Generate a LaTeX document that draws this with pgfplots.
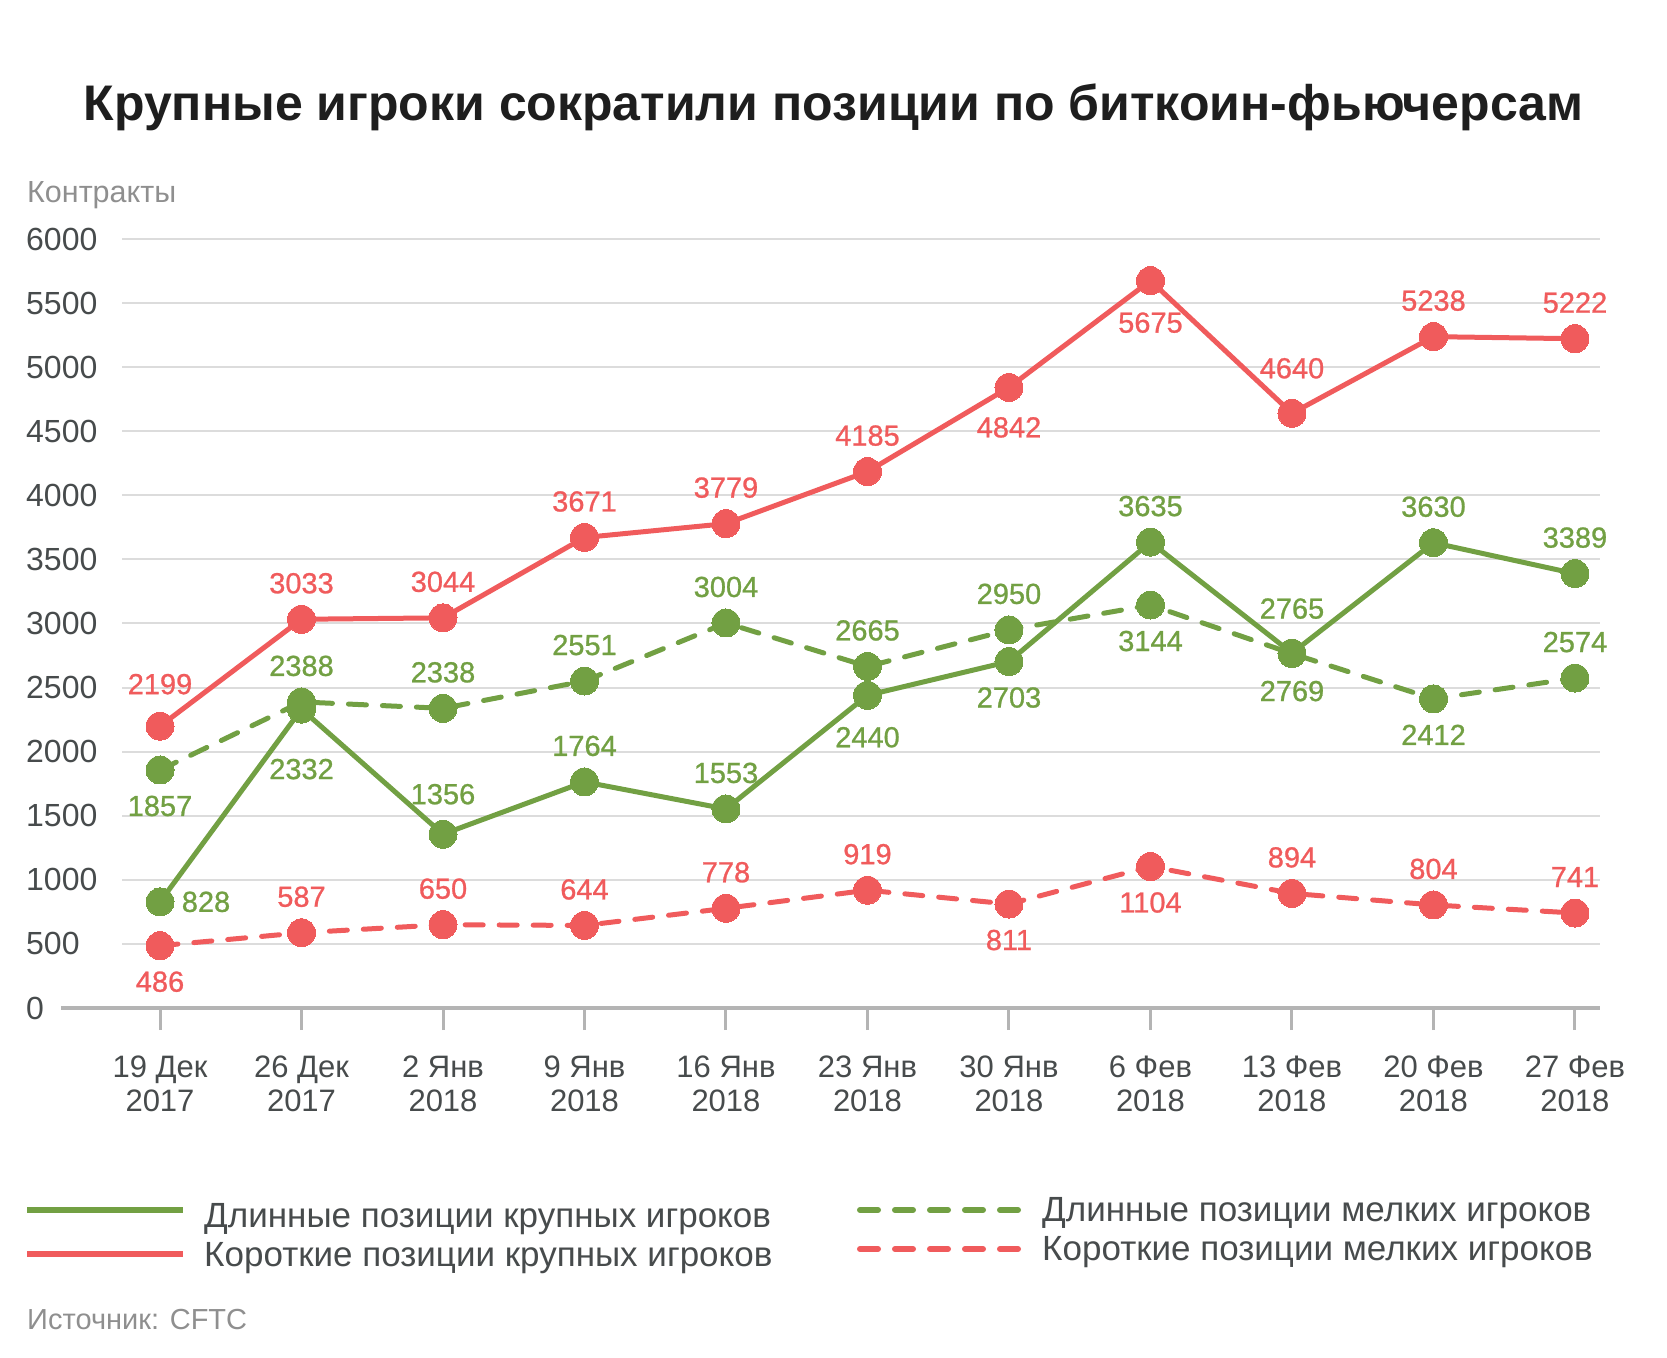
\documentclass[border=0pt]{standalone}
\usepackage{pgfplots}
\pgfplotsset{compat=1.18}
\usepackage{pgfplotstable}
\usepackage{fontspec}
\setmainfont{Liberation Sans}
\newfontfamily\medfont[FakeBold=0.9]{Liberation Sans}

\definecolor{cgreen}{HTML}{72A043}
\definecolor{cred}{HTML}{F05B5C}
\definecolor{txt}{HTML}{474B4C}
\definecolor{ttl}{HTML}{1E1E1E}
\definecolor{muted}{HTML}{8F8F8F}
\definecolor{gridgray}{HTML}{DCDCDC}
\definecolor{basegray}{HTML}{B4B4B4}

% columns: week index, contracts, label offset (dx, dy in pt)
\pgfplotstableread{
x y dx dy
0 2199 0 42
1 3033 0 36
2 3044 0 36
3 3671 0 36
4 3779 0 36
5 4185 0 36
6 4842 0 -40
7 5675 0 -42
8 4640 0 45
9 5238 0 36
10 5222 0 36
}\bigShort

\pgfplotstableread{
x y dx dy
0 828 46 0
1 2332 0 -60
2 1356 0 40
3 1764 0 36
4 1553 0 36
5 2440 0 -42
6 2703 0 -36
7 3635 0 36
8 2769 0 -38
9 3630 0 36
10 3389 0 36
}\bigLong

\pgfplotstableread{
x y dx dy
0 1857 0 -36
1 2388 0 36
2 2338 0 36
3 2551 0 36
4 3004 0 36
5 2665 0 36
6 2950 0 36
7 3144 0 -36
8 2765 0 45
9 2412 0 -36
10 2574 0 36
}\smallLong

\pgfplotstableread{
x y dx dy
0 486 0 -36
1 587 0 36
2 650 0 36
3 644 0 36
4 778 0 36
5 919 0 36
6 811 0 -36
7 1104 0 -36
8 894 0 36
9 804 0 36
10 741 0 36
}\smallShort

\begin{document}
\begin{tikzpicture}[x=1pt,y=1pt]
\useasboundingbox (0,0) rectangle (1667,1357);

\node[font=\bfseries\fontsize{50}{60}\selectfont, text=ttl] at (833.5,1250) {Крупные игроки сократили позиции по биткоин-фьючерсам};
\node[anchor=west, inner sep=0pt, font=\fontsize{30.5}{36}\selectfont, text=muted] at (27,1162) {Контракты};

\begin{axis}[
  at={(122pt,349pt)}, anchor=south west,
  scale only axis, width=1478pt, height=769pt,
  xmin=-0.2686, xmax=10.177, ymin=0, ymax=6000,
  clip=false,
  axis line style={draw=none},
  ytick={0,500,...,6000},
  ymajorgrids,
  grid style={draw=gridgray, line width=2pt},
  xtick={0,...,10},
  xticklabels={{19 Дек\\2017},{26 Дек\\2017},{2 Янв\\2018},{9 Янв\\2018},{16 Янв\\2018},{23 Янв\\2018},{30 Янв\\2018},{6 Фев\\2018},{13 Фев\\2018},{20 Фев\\2018},{27 Фев\\2018}},
  xtick pos=bottom, ytick pos=left,
  tick align=outside, major tick length=22pt,
  xtick style={draw=basegray, line width=3pt},
  ytick style={draw=none},
  xticklabel style={align=center, anchor=north, inner sep=0pt, yshift=-26pt,
    font=\fontsize{31}{34}\selectfont, text=txt},
  yticklabel style={anchor=west, inner sep=0pt, xshift=-74pt,
    font=\fontsize{32}{38}\selectfont, text=txt},
  /pgf/number format/1000 sep={},
  /pgf/number format/assume math mode=true,
  visualization depends on={\thisrow{dx} \as \ldx},
  visualization depends on={\thisrow{dy} \as \ldy},
  nodes near coords,
  point meta=explicit symbolic,
  every node near coord/.append style={anchor=center, inner sep=0pt,
    xshift=\ldx pt, yshift=\ldy pt, font=\medfont\fontsize{29}{34}\selectfont},
  mark size=14pt,
]
% zero line
\draw[basegray, line width=4pt] (axis cs:-0.70,0) -- (axis cs:10.177,0);

\addplot[cred, line width=5pt, dash pattern=on 18pt off 16pt, line cap=round,
  mark=*, mark options={solid, fill=cred, draw=cred, line width=0pt},
  every node near coord/.append style={text=cred}]
  table[x=x, y=y, meta=y] {\smallShort};
\addplot[cgreen, line width=5pt, dash pattern=on 18pt off 16pt, line cap=round,
  mark=*, mark options={solid, fill=cgreen, draw=cgreen, line width=0pt},
  every node near coord/.append style={text=cgreen}]
  table[x=x, y=y, meta=y] {\smallLong};
\addplot[cgreen, line width=5pt, line join=round,
  mark=*, mark options={solid, fill=cgreen, draw=cgreen, line width=0pt},
  every node near coord/.append style={text=cgreen}]
  table[x=x, y=y, meta=y] {\bigLong};
\addplot[cred, line width=5pt, line join=round,
  mark=*, mark options={solid, fill=cred, draw=cred, line width=0pt},
  every node near coord/.append style={text=cred}]
  table[x=x, y=y, meta=y] {\bigShort};
\end{axis}

% legend
\draw[cgreen, line width=6pt] (27,147) -- (183,147);
\draw[cred, line width=6pt] (27,103) -- (183,103);
\node[anchor=west, inner sep=0pt, font=\fontsize{35}{40}\selectfont, text=txt] at (204,138) {Длинные позиции крупных игроков};
\node[anchor=west, inner sep=0pt, font=\fontsize{35}{40}\selectfont, text=txt] at (204,99) {Короткие позиции крупных игроков};
\draw[cgreen, line width=6pt, dash pattern=on 18pt off 17pt, line cap=round] (860,147) -- (1019,147);
\draw[cred, line width=6pt, dash pattern=on 18pt off 17pt, line cap=round] (860,108) -- (1019,108);
\node[anchor=west, inner sep=0pt, font=\fontsize{35}{40}\selectfont, text=txt] at (1042,144) {Длинные позиции мелких игроков};
\node[anchor=west, inner sep=0pt, font=\fontsize{35}{40}\selectfont, text=txt] at (1042,105) {Короткие позиции мелких игроков};

\node[anchor=west, inner sep=0pt, font=\fontsize{29}{34}\selectfont, text=muted] at (27,37) {Источник: CFTC};
\end{tikzpicture}
\end{document}
